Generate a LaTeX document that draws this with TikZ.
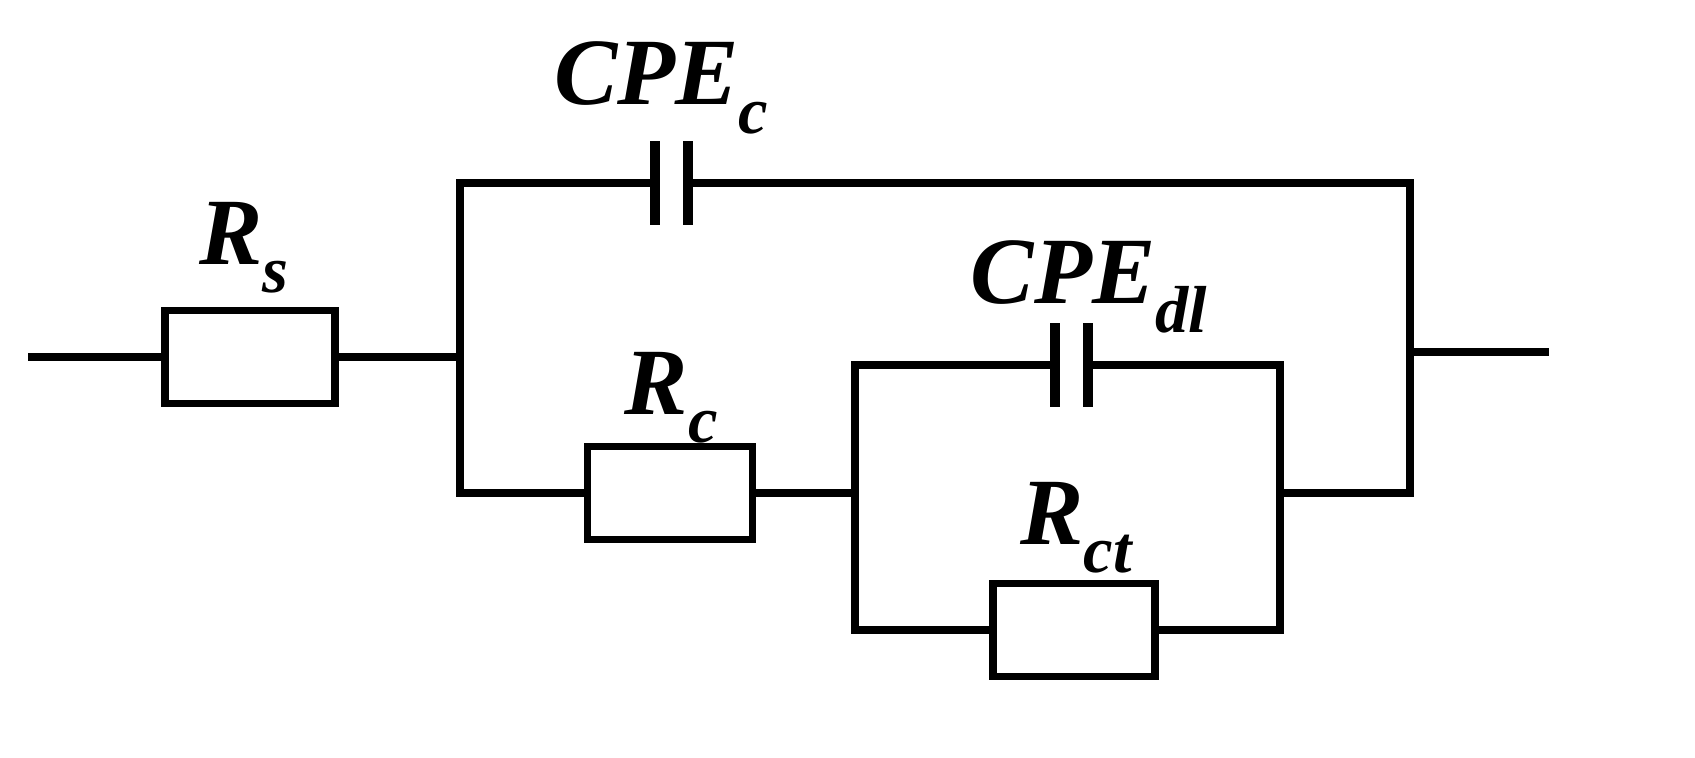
\documentclass[tikz,border=0pt]{standalone}
\usepackage{fontspec}
\setmainfont{Liberation Serif}
\begin{document}
\begin{tikzpicture}[x=0.01cm,y=-0.01cm,
  w/.style={line width=2.1pt,line cap=rect},
  res/.style={draw,line width=2.1pt,minimum width=1.65cm,minimum height=0.93cm,inner sep=0pt},
  lab/.style={font=\fontsize{27}{29}\selectfont\bfseries\itshape},
  plate/.style={line width=2.6pt}]
\useasboundingbox (0,0) rectangle (1695,757);
\coordinate (in) at (28,357);
\node[res,minimum width=1.7cm] (rs) at (250,357) {};
\coordinate (j1t) at (460,183); \coordinate (j1m) at (460,357); \coordinate (j1b) at (460,493);
\coordinate (j2t) at (1410,183); \coordinate (j2m) at (1410,352); \coordinate (j2b) at (1410,493);
\coordinate (out) at (1545,352);
\coordinate (c1a) at (655,183); \coordinate (c1b) at (688,183);
\node[res] (rc) at (670,493) {};
\coordinate (k1t) at (855,365); \coordinate (k1m) at (855,493); \coordinate (k1b) at (855,630);
\coordinate (k2t) at (1280,365); \coordinate (k2m) at (1280,493); \coordinate (k2b) at (1280,630);
\coordinate (c2a) at (1055,365); \coordinate (c2b) at (1088,365);
\node[res,minimum width=1.62cm] (rct) at (1074,630) {};
\draw[w,line cap=butt] (in) -- (rs.west);
\draw[w,line cap=butt] (rs.east) -- (j1m);
\draw[w] (j1t) -- (j1b);
\draw[w] (j1t) -- (c1a); \draw[w] (c1b) -- (j2t) -- (j2b) -- (k2m);
\draw[w] (j2m) -- (out);
\draw[plate] (c1a) ++(0,-42) -- ++(0,84);
\draw[plate] (c1b) ++(0,-42) -- ++(0,84);
\draw[w] (j1b) -- (rc.west); \draw[w] (rc.east) -- (k1m);
\draw[w] (k1b) -- (k1t) -- (c2a); \draw[w] (c2b) -- (k2t) -- (k2b);
\draw[plate] (c2a) ++(0,-42) -- ++(0,84);
\draw[plate] (c2b) ++(0,-42) -- ++(0,84);
\draw[w] (k1b) -- (rct.west); \draw[w] (rct.east) -- (k2b);
\node[lab] (lrs) at (245,248) {R\textsubscript{\raisebox{-0.5ex}{s}}};
\node[lab] (lcpec) at (662,88) {CPE\textsubscript{\raisebox{-0.5ex}{c}}};
\node[lab] (lcpedl) at (1090,287) {CPE\textsubscript{\raisebox{-0.5ex}{dl}}};
\node[lab] (lrc) at (672,398) {R\textsubscript{\raisebox{-0.5ex}{c}}};
\node[lab] (lrct) at (1077,528) {R\textsubscript{\raisebox{-0.5ex}{ct}}};
\end{tikzpicture}
\end{document}
